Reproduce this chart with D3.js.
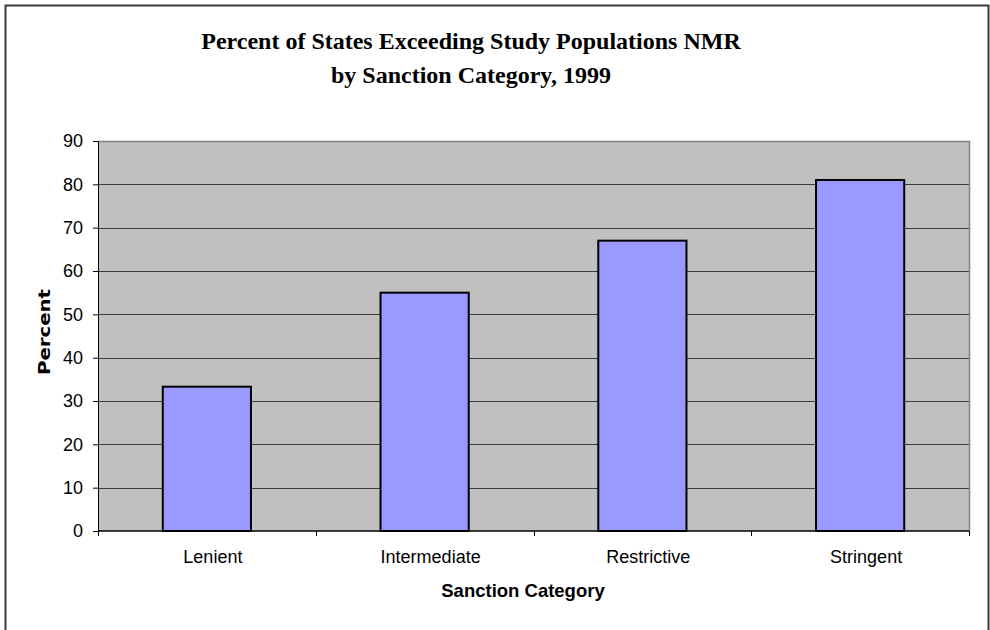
<!DOCTYPE html>
<html>
<head>
<meta charset="utf-8">
<script src="https://cdn.jsdelivr.net/npm/d3@7"></script>
<style>
  html, body { margin: 0; padding: 0; background: #fff; }
  svg { display: block; }
</style>
</head>
<body>
<script>
// Sanction categories and share of states above the study population NMR
const categories = ["Lenient", "Intermediate", "Restrictive", "Stringent"];
const percents = [33.3, 55, 67, 81];
const yTicks = [0, 10, 20, 30, 40, 50, 60, 70, 80, 90];
const titleLines = ["Percent of States Exceeding Study Populations NMR", "by Sanction Category, 1999"];

const W = 990, H = 630;
const plot = { left: 98, right: 969, top: 141, bottom: 531 };

const svg = d3.select("body").append("svg")
  .attr("width", W).attr("height", H);

// outer chart frame (open at the bottom edge)
svg.append("path")
  .attr("d", `M5.5,${H} V5.5 H988.5 V${H}`)
  .attr("fill", "none").attr("stroke", "#3a3a3a").attr("stroke-width", 2);

const x = d3.scaleBand().domain(categories)
  .range([plot.left, plot.right]).paddingInner(0.595).paddingOuter(0.2975);
const y = d3.scaleLinear().domain([0, 90]).range([plot.bottom, plot.top]);

// plot background
svg.append("rect")
  .attr("x", plot.left).attr("y", plot.top)
  .attr("width", plot.right - plot.left).attr("height", plot.bottom - plot.top)
  .attr("fill", "#c0c0c0");

// horizontal gridlines
svg.append("g").selectAll("line").data(yTicks.filter(t => t > 0 && t < 90)).join("line")
  .attr("x1", plot.left).attr("x2", plot.right)
  .attr("y1", d => Math.round(y(d)) + 0.5).attr("y2", d => Math.round(y(d)) + 0.5)
  .attr("stroke", "#3c3c3c").attr("stroke-width", 1);

// plot frame on top and right
svg.append("path")
  .attr("d", `M${plot.left},${plot.top + 0.5} H${plot.right + 0.5} V${plot.bottom}`)
  .attr("fill", "none").attr("stroke", "#808080").attr("stroke-width", 1.5);

// bars
svg.append("g").selectAll("rect").data(categories).join("rect")
  .attr("x", d => x(d))
  .attr("y", (d, i) => y(percents[i]))
  .attr("width", x.bandwidth())
  .attr("height", (d, i) => y(0) - y(percents[i]))
  .attr("fill", "#9999ff")
  .attr("stroke", "#000").attr("stroke-width", 2);

// y axis
const yAxis = svg.append("g")
  .attr("transform", `translate(${plot.left},0)`)
  .call(d3.axisLeft(y).tickValues(yTicks).tickSize(5).tickPadding(10).tickFormat(d3.format("d")));
yAxis.select(".domain").attr("stroke", "#000");
yAxis.selectAll(".tick line").attr("stroke", "#000");
yAxis.selectAll("text")
  .attr("font-family", "Liberation Sans, Arial, sans-serif")
  .attr("font-size", 18).attr("fill", "#000");

// x axis with ticks between categories
const xAxisG = svg.append("g").attr("transform", `translate(0,${plot.bottom})`);
xAxisG.append("line")
  .attr("x1", plot.left).attr("x2", plot.right)
  .attr("stroke", "#000").attr("stroke-width", 1.5);
const step = x.step();
const bounds = d3.range(categories.length + 1).map(i => plot.left + i * step);
xAxisG.selectAll("line.tick").data(bounds).join("line")
  .attr("class", "tick")
  .attr("x1", d => Math.round(d) + 0.5).attr("x2", d => Math.round(d) + 0.5)
  .attr("y1", 0).attr("y2", 5)
  .attr("stroke", "#000");
xAxisG.selectAll("text").data(categories).join("text")
  .attr("x", d => x(d) + x.bandwidth() / 2 + 6)
  .attr("y", 32)
  .attr("text-anchor", "middle")
  .attr("font-family", "Liberation Sans, Arial, sans-serif")
  .attr("font-size", 18).attr("fill", "#000")
  .text(d => d);

// axis titles
svg.append("text")
  .attr("x", 523).attr("y", 597)
  .attr("text-anchor", "middle")
  .attr("font-family", "Liberation Sans, Arial, sans-serif")
  .attr("font-size", 18.5).attr("font-weight", "bold")
  .text("Sanction Category");

svg.append("text")
  .attr("transform", "translate(50,332) rotate(-90)")
  .attr("text-anchor", "middle")
  .attr("font-family", "DejaVu Sans, sans-serif")
  .attr("font-size", 15).attr("font-weight", "bold")
  .attr("textLength", 86).attr("lengthAdjust", "spacingAndGlyphs")
  .text("Percent");

// chart title
svg.append("g").selectAll("text").data(titleLines).join("text")
  .attr("x", 471).attr("y", (d, i) => 49 + i * 34)
  .attr("text-anchor", "middle")
  .attr("font-family", "Liberation Serif, Times New Roman, serif")
  .attr("font-size", 24).attr("font-weight", "bold")
  .text(d => d);
</script>
</body>
</html>
